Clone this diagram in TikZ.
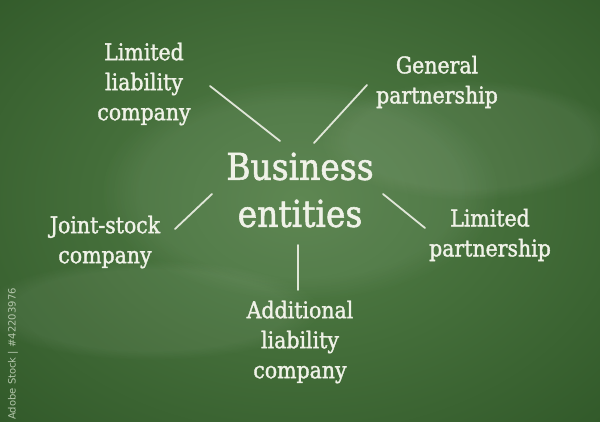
\documentclass[tikz,border=0pt]{standalone}
\usepackage{fontspec}
\usetikzlibrary{fadings}
\newfontfamily\chalk[FakeStretch=0.89,FakeBold=1.5]{DejaVu Serif}
\newfontfamily\wmfont{DejaVu Sans}
\definecolor{board}{RGB}{50,90,42}
\definecolor{boardlight}{RGB}{84,128,72}
\definecolor{chalkc}{RGB}{240,242,232}
\definecolor{wmc}{RGB}{180,198,172}
\tikzset{
  lbl/.style={font=\chalk\fontsize{23}{30}\selectfont, text=chalkc, align=center, inner sep=0pt},
  ttl/.style={font=\chalk\fontsize{37}{47}\selectfont, text=chalkc, align=center, inner sep=0pt},
  chalkline/.style={draw=chalkc, line width=1.8pt, line cap=round, opacity=0.9},
  smudge/.style={fill=white, opacity=0.06, path fading=circle with fuzzy edge 20 percent}
}
\begin{document}
\begin{tikzpicture}[x=1pt,y=-1pt]
\useasboundingbox (0,0) rectangle (600,422);
\begin{scope}
\clip (0,0) rectangle (600,422);
\shade[inner color=boardlight, outer color=board] (300,200) ellipse (430 and 310);
\fill[smudge] (470,140) ellipse (150 and 60);
\fill[smudge] (150,310) ellipse (170 and 50);
\fill[smudge] (300,190) ellipse (200 and 110);
\end{scope}
% title
\node[ttl] (be) at (300,190) {Business\\entities};
% labels
\node[lbl] (llc) at (144,84) {Limited\\liability\\company};
\node[lbl] (gp) at (437,82) {General\\partnership};
\node[lbl] (jsc) at (105,242) {Joint-stock\\company};
\node[lbl] (lp) at (490,235) {Limited\\partnership};
\node[lbl] (alc) at (300,342) {Additional\\liability\\company};
% connector end points
\coordinate (a1) at (210,86);  \coordinate (a2) at (280,141);
\coordinate (b1) at (367,85);  \coordinate (b2) at (314,143);
\coordinate (c1) at (212,194); \coordinate (c2) at (175,229);
\coordinate (d1) at (383,194); \coordinate (d2) at (425,228);
\coordinate (e1) at (298,245); \coordinate (e2) at (298,290);
\draw[chalkline] (a1) -- (a2);
\draw[chalkline] (b1) -- (b2);
\draw[chalkline] (c1) -- (c2);
\draw[chalkline] (d1) -- (d2);
\draw[chalkline] (e1) -- (e2);
% watermark
\node[font=\wmfont\fontsize{10}{12}\selectfont, text=wmc, rotate=90, inner sep=0pt] (wm) at (13,354) {Adobe Stock | \#42203976};
\end{tikzpicture}
\end{document}
